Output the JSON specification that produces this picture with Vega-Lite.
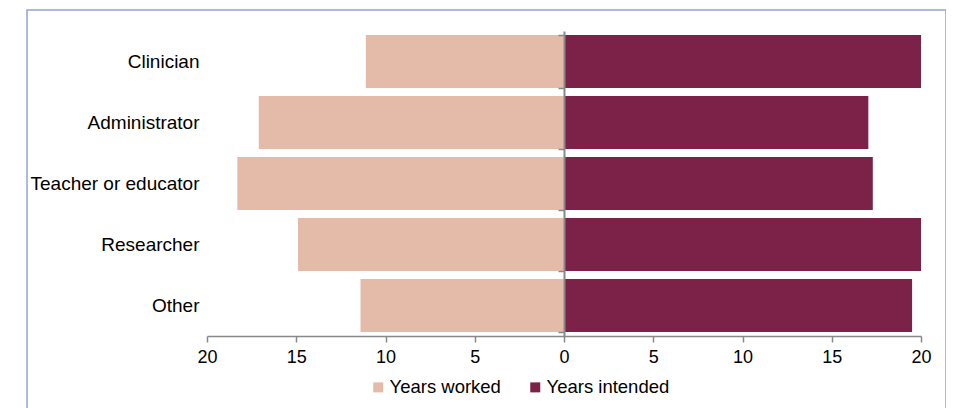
{
  "$schema": "https://vega.github.io/schema/vega-lite/v6.json",
  "autosize": "none",
  "padding": {"left": 27, "top": 10, "right": 0, "bottom": 0},
  "width": 919,
  "height": 400,
  "background": "white",
  "config": {
    "view": {"stroke": "#95a3d4", "strokeWidth": 1.5},
    "font": "Liberation Sans",
    "axis": {"labelFont": "Liberation Sans", "labelColor": "#000000", "grid": false, "title": null},
    "legend": {"labelFont": "Liberation Sans"}
  },
  "data": {
    "values": [
      {"role": "Clinician", "worked": 11.1, "intended": 20.0},
      {"role": "Administrator", "worked": 17.1, "intended": 17.05},
      {"role": "Teacher or educator", "worked": 18.3, "intended": 17.3},
      {"role": "Researcher", "worked": 14.9, "intended": 20.0},
      {"role": "Other", "worked": 11.4, "intended": 19.5}
    ]
  },
  "transform": [{"calculate": "-datum.worked", "as": "worked_left"}],
  "layer": [
    {
      "mark": {"type": "bar"},
      "encoding": {
        "y": {
          "field": "role", "type": "nominal",
          "sort": ["Clinician", "Administrator", "Teacher or educator", "Researcher", "Other"],
          "scale": {"range": [21, 326], "paddingInner": 0.13, "paddingOuter": 0.065},
          "axis": {"orient": "left", "offset": -174, "domain": false, "ticks": false, "tickSize": 0, "labelPadding": 2, "labelFontSize": 19, "labelAlign": "right"}
        },
        "x": {
          "field": "worked_left", "type": "quantitative",
          "scale": {"domain": [-20, 20], "range": [180, 894], "nice": false, "zero": false},
          "axis": {
            "orient": "bottom", "offset": -74, "values": [-20, -15, -10, -5, 0, 5, 10, 15, 20],
            "labelExpr": "abs(datum.value)", "labelFontSize": 18, "labelPadding": 6, "labelFlush": false, "labelOverlap": false,
            "domainColor": "#888888", "domainWidth": 1.5, "tickColor": "#888888", "tickWidth": 1.5, "tickSize": 6,
            "zindex": 1
          }
        },
        "color": {
          "datum": "Years worked", "type": "nominal",
          "scale": {"domain": ["Years worked", "Years intended"], "range": ["#E4BAA9", "#7C2249"]},
          "legend": {
            "title": null, "orient": "none", "direction": "horizontal", "legendX": 342, "legendY": 368,
            "symbolType": "square", "symbolSize": 100, "symbolStrokeWidth": 0,
            "labelFontSize": 18.5, "labelOffset": 2, "columnPadding": 25, "labelColor": "#000000"
          }
        }
      }
    },
    {
      "mark": {"type": "bar"},
      "encoding": {
        "y": {
          "field": "role", "type": "nominal",
          "sort": ["Clinician", "Administrator", "Teacher or educator", "Researcher", "Other"],
          "axis": {"orient": "left", "offset": -537, "labels": false, "domain": true, "ticks": true, "tickBand": "extent",
                   "tickSize": 6, "domainColor": "#888888", "domainWidth": 2, "tickColor": "#888888", "tickWidth": 1.5, "zindex": 1}
        },
        "x": {"field": "intended", "type": "quantitative"},
        "color": {"datum": "Years intended", "type": "nominal"}
      }
    }
  ],
  "resolve": {"axis": {"y": "independent"}}
}
